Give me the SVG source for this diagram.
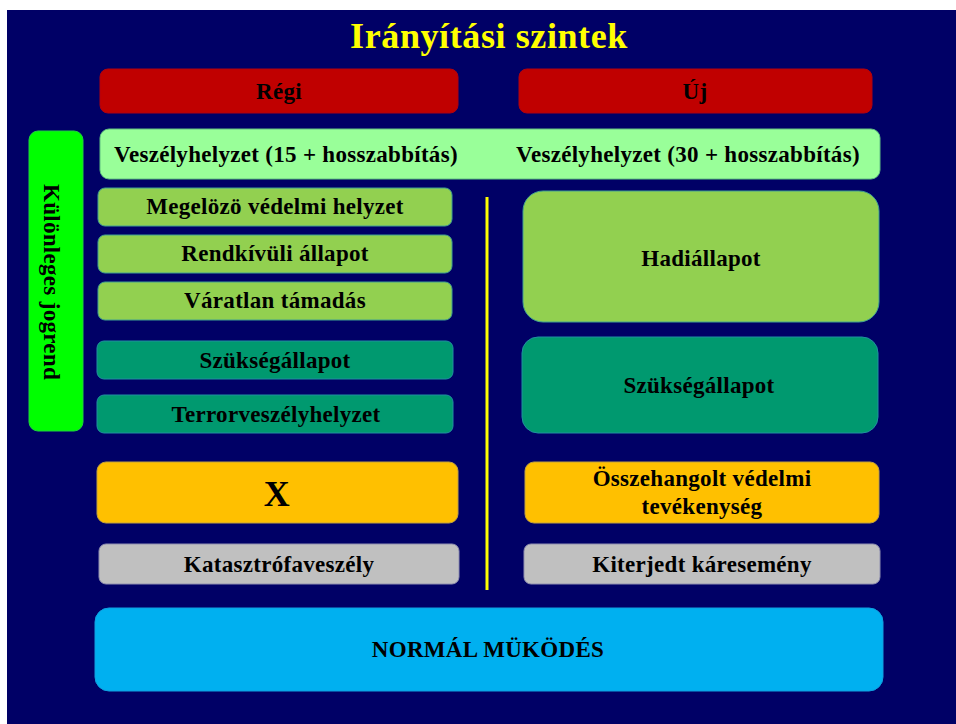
<svg xmlns="http://www.w3.org/2000/svg" width="956" height="724" viewBox="0 0 956 724">
<style>
.t{font-family:"Liberation Serif","Times New Roman",serif;font-weight:bold;font-size:23px;letter-spacing:0.3px;fill:#000;text-anchor:middle}
.title{font-family:"Liberation Serif","Times New Roman",serif;font-weight:bold;font-size:36px;letter-spacing:0.6px;fill:#FFFF00;text-anchor:middle}
.red{fill:#C00000;stroke:#B00010;stroke-width:1}
.lg{fill:#99FF99;stroke:#60C080;stroke-width:1}
.gr{fill:#92D050;stroke:#40A090;stroke-width:1}
.te{fill:#00996F;stroke:#2090A0;stroke-width:1}
.or{fill:#FFC000;stroke:#C0A040;stroke-width:1}
.gy{fill:#C0C0C0;stroke:#9090B0;stroke-width:1}
.cy{fill:#00B0F0;stroke:#10A0E0;stroke-width:1}
.bg{fill:#00FF00;stroke:#20D040;stroke-width:1}
</style>
<rect x="0" y="0" width="956" height="724" fill="#FFFFFF"/>
<rect x="7" y="10" width="949" height="714" fill="#000066"/>
<text class="title" x="489" y="48">Irányítási szintek</text>
<g id="regi"><rect class="red" x="100" y="69" width="358" height="44" rx="8"/><text class="t" x="279" y="99">Régi</text></g>
<g id="uj"><rect class="red" x="519" y="69" width="353" height="44" rx="8"/><text class="t" x="695" y="99">Új</text></g>
<g id="veszely"><rect class="lg" x="100" y="129" width="780" height="50" rx="9"/><text class="t" x="286" y="162">Veszélyhelyzet (15 + hosszabbítás)</text><text class="t" x="688" y="162">Veszélyhelyzet (30 + hosszabbítás)</text></g>
<g id="kulonleges"><rect class="bg" x="29" y="131" width="54" height="300" rx="9"/><text class="t" transform="translate(44,282) rotate(90)" x="0" y="0">Különleges jogrend</text></g>
<g id="megelozo"><rect class="gr" x="98" y="188" width="354" height="38" rx="7"/><text class="t" x="275" y="214">Megelözö védelmi helyzet</text></g>
<g id="rendkivuli"><rect class="gr" x="98" y="235" width="354" height="38" rx="7"/><text class="t" x="275" y="261">Rendkívüli állapot</text></g>
<g id="varatlan"><rect class="gr" x="98" y="282" width="354" height="38" rx="7"/><text class="t" x="275" y="308">Váratlan támadás</text></g>
<g id="szukseg-regi"><rect class="te" x="97" y="341" width="356" height="38" rx="7"/><text class="t" x="275" y="368">Szükségállapot</text></g>
<g id="terror"><rect class="te" x="97" y="395" width="356" height="38" rx="7"/><text class="t" x="276" y="422">Terrorveszélyhelyzet</text></g>
<g id="x"><rect class="or" x="97" y="462" width="361" height="61" rx="9"/><text class="t" x="277" y="506" style="font-size:36px">X</text></g>
<g id="katasztrofa"><rect class="gy" x="99" y="544" width="360" height="40" rx="7"/><text class="t" x="279" y="572">Katasztrófaveszély</text></g>
<g id="hadiallapot"><rect class="gr" x="523" y="191" width="356" height="131" rx="20"/><text class="t" x="701" y="266">Hadiállapot</text></g>
<g id="szukseg-uj"><rect class="te" x="522" y="337" width="356" height="96" rx="16"/><text class="t" x="699" y="393">Szükségállapot</text></g>
<g id="osszehangolt"><rect class="or" x="525" y="462" width="354" height="61" rx="9"/><text class="t" x="702" y="486">Összehangolt védelmi</text><text class="t" x="702" y="514">tevékenység</text></g>
<g id="kiterjedt"><rect class="gy" x="524" y="544" width="356" height="40" rx="7"/><text class="t" x="702" y="572">Kiterjedt káresemény</text></g>
<g id="normal"><rect class="cy" x="95" y="608" width="788" height="83" rx="14"/><text class="t" x="488" y="657">NORMÁL MÜKÖDÉS</text></g>
<g id="connectors"><line x1="487" y1="197" x2="487" y2="590" stroke="#FFFF00" stroke-width="3"/></g>
</svg>
